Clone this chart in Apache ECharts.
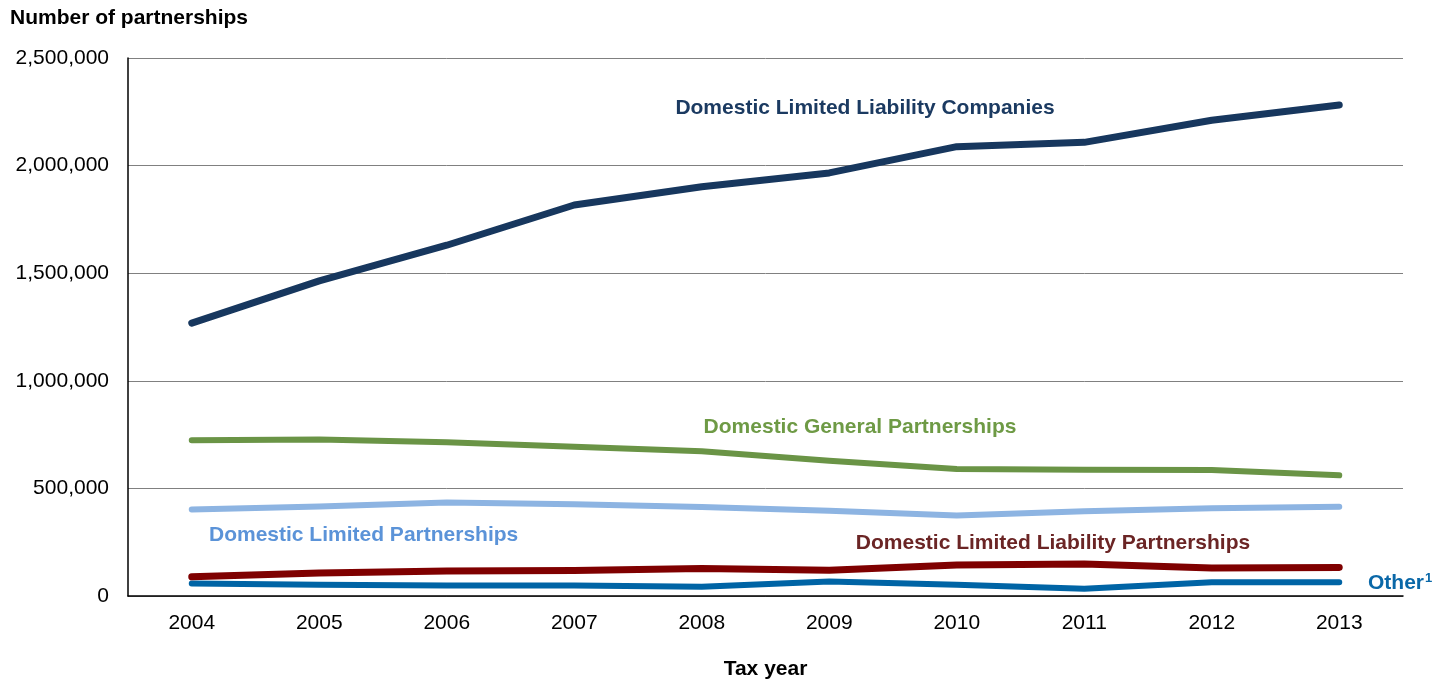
<!DOCTYPE html>
<html>
<head>
<meta charset="utf-8">
<script src="https://cdn.jsdelivr.net/npm/echarts@6/dist/echarts.min.js"></script>
<style>
  html, body { margin: 0; padding: 0; background: #fff; }
  #chart { width: 1445px; height: 685px; }
</style>
</head>
<body>
<div id="chart"></div>
<script>
// Tax years on the category axis
const years = ['2004', '2005', '2006', '2007', '2008', '2009', '2010', '2011', '2012', '2013'];

// Number of partnerships by entity type
const llcCompanies = [1268000, 1464000, 1630000, 1817000, 1902000, 1966000, 2088000, 2108000, 2211000, 2282000];
const generalPartnerships = [724000, 727000, 715000, 693000, 673000, 628000, 590000, 587000, 585000, 561000];
const limitedPartnerships = [402000, 416000, 435000, 426000, 413000, 396000, 374000, 394000, 408000, 415000];
const llPartnerships = [89000, 107000, 116000, 119000, 128000, 120000, 144000, 149000, 130000, 133000];
const otherEntities = [58000, 52000, 49000, 49000, 43000, 67000, 52000, 34000, 64000, 64000];

// Y axis ticks
const yTicks = [0, 500000, 1000000, 1500000, 2000000, 2500000];

const FONT = '"Liberation Sans", Arial, sans-serif';

function line(name, data, color, width) {
  return {
    name: name,
    type: 'line',
    data: data,
    symbol: 'none',
    smooth: false,
    lineStyle: { color: color, width: width, cap: 'round', join: 'round' },
    emphasis: { disabled: true }
  };
}

const chart = echarts.init(document.getElementById('chart'), null, { renderer: 'canvas' });

chart.setOption({
  animation: false,
  textStyle: { fontFamily: FONT },
  grid: { left: 128, right: 42, top: 58, bottom: 82, containLabel: false },
  xAxis: {
    type: 'category',
    data: years,
    boundaryGap: true,
    axisLine: { show: true, lineStyle: { color: '#000', width: 1.5 } },
    axisTick: { show: false },
    axisLabel: { color: '#000', fontSize: 21, margin: 17, fontFamily: FONT },
    name: 'Tax year',
    nameLocation: 'middle',
    nameGap: 63,
    nameTextStyle: { color: '#000', fontSize: 21, fontWeight: 'bold', fontFamily: FONT }
  },
  yAxis: {
    type: 'value',
    min: yTicks[0],
    max: yTicks[yTicks.length - 1],
    interval: yTicks[1] - yTicks[0],
    axisLine: { show: true, lineStyle: { color: '#000', width: 1.5 } },
    axisTick: { show: false },
    splitLine: { show: true, lineStyle: { color: '#808080', width: 1 } },
    axisLabel: {
      color: '#000', fontSize: 21, margin: 19, fontFamily: FONT,
      formatter: v => v.toLocaleString('en-US')
    }
  },
  graphic: [
    { type: 'text', left: 10, top: 8,
      style: { text: 'Number of partnerships', font: 'bold 21px ' + FONT, fill: '#000' } },
    { type: 'text', x: 865, y: 108,
      style: { text: 'Domestic Limited Liability Companies', font: 'bold 21px ' + FONT, fill: '#1B3A61', align: 'center', verticalAlign: 'middle' } },
    { type: 'text', x: 860, y: 427,
      style: { text: 'Domestic General Partnerships', font: 'bold 21px ' + FONT, fill: '#6E9A45', align: 'center', verticalAlign: 'middle' } },
    { type: 'text', x: 209, y: 535,
      style: { text: 'Domestic Limited Partnerships', font: 'bold 21px ' + FONT, fill: '#5B93D8', align: 'left', verticalAlign: 'middle' } },
    { type: 'text', x: 1053, y: 543,
      style: { text: 'Domestic Limited Liability Partnerships', font: 'bold 21px ' + FONT, fill: '#6B2525', align: 'center', verticalAlign: 'middle' } },
    { type: 'text', x: 1368, y: 583,
      style: {
        text: '{a|Other}{s|1}',
        align: 'left', verticalAlign: 'middle',
        rich: {
          a: { font: 'bold 21px ' + FONT, fill: '#0A68A8', color: '#0A68A8' },
          s: { font: 'bold 13px ' + FONT, fill: '#0A68A8', color: '#0A68A8', verticalAlign: 'top', padding: [0, 0, 9, 1] }
        }
      } }
  ],
  series: [
    line('Domestic Limited Partnerships', limitedPartnerships, '#8DB4E2', 6),
    line('Domestic General Partnerships', generalPartnerships, '#6A9446', 6),
    line('Other', otherEntities, '#0064A5', 6),
    line('Domestic Limited Liability Partnerships', llPartnerships, '#7F0000', 7),
    line('Domestic Limited Liability Companies', llcCompanies, '#17375E', 7)
  ]
});
</script>
</body>
</html>
